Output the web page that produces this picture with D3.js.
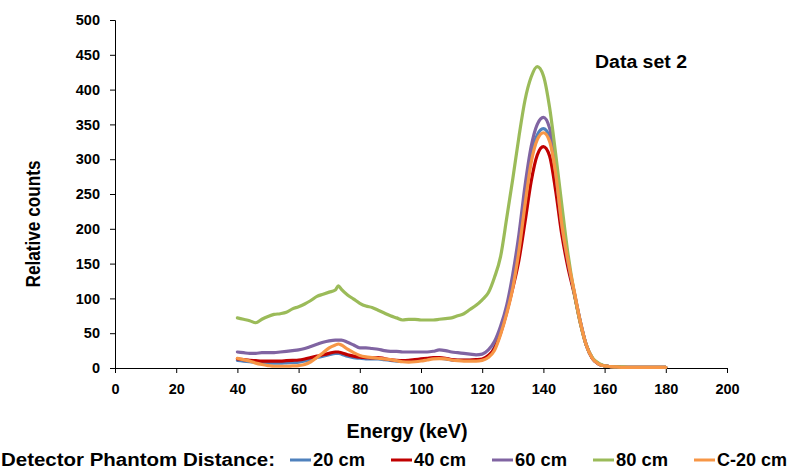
<!DOCTYPE html>
<html>
<head>
<meta charset="utf-8">
<script src="https://cdn.jsdelivr.net/npm/d3@7"></script>
<style>
  body { margin: 0; background: #fff; }
  svg text { font-family: "Liberation Sans Narrow", "Liberation Sans", Arial, sans-serif; font-weight: bold; fill: #000; }
</style>
</head>
<body>
<svg id="chart" width="788" height="470"></svg>
<script>
// energy grid (keV), shared by every series
var energies = [40,42,44,46,48,50,52,54,56,58,60,62,64,66,68,70,72,73,74,76,78,80,82,84,86,88,90,92,94,96,98,100,
  102,104,106,108,110,112,114,116,118,120,122,124,126,128,130,132,134,136,138,140,142,144,146,148,150,152,154,156,158,160,
  162,164,166,168,170,172,174,176,178,180];

var cm20 = [11,10,9,8,7.5,7,7,7,7.5,8,8.5,10,12,15,17,19,21,21,20,17,15,14,13,13,13,12,11,10,10,10,11,12,
  13,14,14,13,11.5,11,11,11,11,12,16,30,55,85,125,180,248,305,335,344,332,280,205,152,110,68,33,14,6,3,
  2,1.5,1,1,1,1,1,1,1,1];
var cm40 = [13,12,11,10.5,10,10,10,10,10.5,11,11.5,13,15,17,19,21,23,23,22,19,17,15.5,15,14.5,15,13.5,12,11,10.5,11,12,13,
  14,15,15,14,12,11.5,11.5,11.5,12,13,18,28,50,80,115,155,210,268,306,318,305,255,192,145,108,66,33,14,6,3,
  2,1.5,1,1,1,1,1,1,1,1];
var cm60 = [23,22,21,21,22,22,22,23,24,25,26,28,31,34,37,39,40,40,40,37,33,29,29,28,27,25,24,24,23,23,23,23,
  23,24,26,25,23,22,21,20,19,20,26,38,60,90,135,192,262,318,350,360,345,282,207,153,110,68,33,14,6,3,
  2,1.5,1,1,1,1,1,1,1,1];
var cm80 = [72,70,68,65,70,74,77,78,80,85,88,92,97,103,106,109,112,118,113,105,99,93,89,87,83,79,75,72,69,70,70,69,
  69,69,70,71,72,75,78,84,90,98,108,130,160,215,272,332,385,418,433,420,375,308,235,165,110,66,33,15,7,3,
  2,1.5,1.5,1,1,1,1,1,1,1];
var cmC20 = [14,12,10,7,5,3.5,2.5,2.5,2.5,3,3.5,5,9,15,22,29,33,34.5,33,27,22,18,16,15,14,13,12,10.5,9,8.5,9,10,
  11.5,13,13.5,13,11.5,10.5,10,10,10,11,15,25,48,78,115,168,235,295,328,338,326,280,207,155,112,68,33,14,6,3,
  2,1.5,1,1,1,1,1,1,1,1];

var seriesNames = ["20 cm", "40 cm", "60 cm", "80 cm", "C-20 cm"];
var seriesValues = [cm20, cm40, cm60, cm80, cmC20];
var seriesColors = ["#4F81BD", "#C00000", "#8064A2", "#9BBB59", "#F79646"];

var xTicks = [0,20,40,60,80,100,120,140,160,180,200];
var yTicks = [0,50,100,150,200,250,300,350,400,450,500];

var svg = d3.select("#chart");

var x = d3.scaleLinear().domain([0, 200]).range([115, 727]);
var y = d3.scaleLinear().domain([0, 500]).range([368, 20]);

// axes
var xAxis = svg.append("g")
    .attr("transform", "translate(0,368)")
    .call(d3.axisBottom(x).tickValues(xTicks).tickSize(5).tickPadding(11));
var yAxis = svg.append("g")
    .attr("transform", "translate(115,0)")
    .call(d3.axisLeft(y).tickValues(yTicks).tickSize(5).tickPadding(10));

[xAxis, yAxis].forEach(function(a) {
    a.selectAll("path").attr("stroke", "#000").attr("stroke-width", 1);
    a.selectAll("line").attr("stroke", "#000");
    a.selectAll("text").style("font-size", "14.5px").style("font-family", "Liberation Sans, Arial, sans-serif")
        .style("font-weight", "bold").attr("fill", "#000");
});

// lines
var line = d3.line()
    .x(function(d) { return x(d[0]); })
    .y(function(d) { return y(d[1]); })
    .curve(d3.curveMonotoneX);

seriesValues.forEach(function(vals, i) {
    var pts = energies.map(function(e, j) { return [e, vals[j]]; });
    svg.append("path")
        .datum(pts)
        .attr("d", line)
        .attr("fill", "none")
        .attr("stroke", seriesColors[i])
        .attr("stroke-width", 3.2)
        .attr("stroke-linejoin", "round")
        .attr("stroke-linecap", "round");
});

// titles
svg.append("text")
    .attr("transform", "translate(40,224) rotate(-90)")
    .attr("text-anchor", "middle")
    .attr("textLength", 127).attr("lengthAdjust", "spacingAndGlyphs")
    .style("font-size", "20px")
    .text("Relative counts");

svg.append("text")
    .attr("x", 407).attr("y", 438)
    .attr("text-anchor", "middle")
    .attr("textLength", 121).attr("lengthAdjust", "spacingAndGlyphs")
    .style("font-size", "20px")
    .text("Energy (keV)");

svg.append("text")
    .attr("x", 595).attr("y", 68)
    .attr("textLength", 92).attr("lengthAdjust", "spacingAndGlyphs")
    .style("font-size", "18px")
    .text("Data set 2");

// legend
svg.append("text")
    .attr("x", 1).attr("y", 466)
    .attr("textLength", 274).attr("lengthAdjust", "spacingAndGlyphs")
    .style("font-size", "18px")
    .text("Detector Phantom Distance:");

var legend = svg.selectAll(".leg")
    .data(seriesNames)
    .enter().append("g")
    .attr("transform", function(d, i) { return "translate(" + (290 + i * 101) + ",460)"; });

legend.append("line")
    .attr("x1", 0).attr("x2", 21)
    .attr("y1", 0).attr("y2", 0)
    .attr("stroke", function(d, i) { return seriesColors[i]; })
    .attr("stroke-width", 3);

legend.append("text")
    .attr("x", 23).attr("y", 6)
    .attr("textLength", function(d) { return d.length > 5 ? 70 : 52; })
    .attr("lengthAdjust", "spacingAndGlyphs")
    .style("font-size", "18px")
    .text(function(d) { return d; });
</script>
</body>
</html>
